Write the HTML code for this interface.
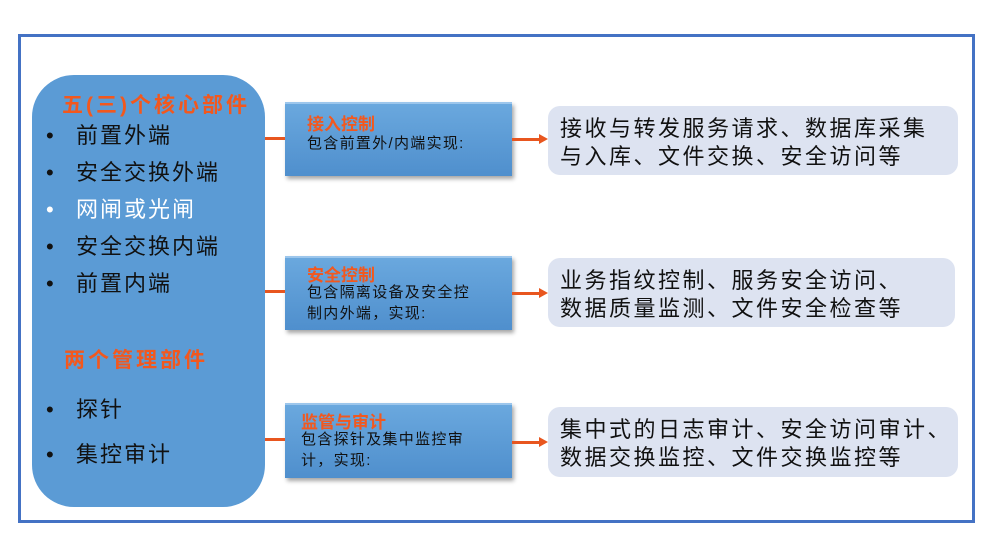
<!DOCTYPE html>
<html><head><meta charset="utf-8"><style>
body{margin:0;width:994px;height:538px;background:#fff;position:relative;overflow:hidden;font-family:"Liberation Sans","Noto Sans CJK SC",sans-serif}
.a{position:absolute}
.frame{left:18px;top:34px;width:951px;height:483px;border:3px solid #4472c4}
.left{left:32px;top:75px;width:233px;height:432px;background:#5b9bd5;border-radius:42px}
.t{color:#f2581e;font-weight:bold;font-size:21px;white-space:nowrap;letter-spacing:3px}
.b{font-size:22px;color:#111;white-space:nowrap;letter-spacing:2px;line-height:26px}
.b:before{content:"•";position:absolute;left:-30px;top:0;font-size:22px;line-height:26px}
.mid{left:285px;width:227px;background:linear-gradient(#6aa8de,#4f8fcd);box-shadow:2px 3px 4px rgba(0,0,0,.35);border-top:2px solid #9cc6ec}
.mt{color:#f2581e;font-weight:bold;font-size:17px;position:absolute;left:22px}
.ms{font-size:15px;color:#111;position:absolute;left:22px;line-height:21px;white-space:nowrap;letter-spacing:1.3px}
.r{left:548px;background:#dde3f1;border-radius:12px;font-size:22px;color:#111;line-height:28px;padding:9px 0 0 12px;box-sizing:border-box;white-space:nowrap;letter-spacing:2.5px}
.ln{height:3px;background:#e8561f}
.ar{width:0;height:0;border-left:9px solid #e8561f;border-top:5px solid transparent;border-bottom:5px solid transparent}
</style></head><body>
<div class="a frame"></div>
<div class="a left"></div>
<div class="a t" style="left:62px;top:89px">五(三)个核心部件</div>
<div class="a b" style="left:76px;top:123px">前置外端</div>
<div class="a b" style="left:76px;top:160px">安全交换外端</div>
<div class="a b" style="left:76px;top:197px;color:#fff">网闸或光闸</div>
<div class="a b" style="left:76px;top:234px">安全交换内端</div>
<div class="a b" style="left:76px;top:271px">前置内端</div>
<div class="a t" style="left:64px;top:344px">两个管理部件</div>
<div class="a b" style="left:76px;top:397px">探针</div>
<div class="a b" style="left:76px;top:442px">集控审计</div>

<div class="a mid" style="top:102px;height:72px"><div class="mt" style="top:6px">接入控制</div><div class="ms" style="top:29px">包含前置外/内端实现:</div></div>
<div class="a mid" style="top:256px;height:72px"><div class="mt" style="top:3px">安全控制</div><div class="ms" style="top:24px">包含隔离设备及安全控<br>制内外端，实现:</div></div>
<div class="a mid" style="top:403px;height:73px"><div class="mt" style="top:3px;left:16px">监管与审计</div><div class="ms" style="top:24px;left:16px">包含探针及集中监控审<br>计，实现:</div></div>

<div class="a ln" style="left:265px;top:137px;width:20px"></div>
<div class="a ln" style="left:265px;top:290px;width:20px"></div>
<div class="a ln" style="left:265px;top:438px;width:20px"></div>
<div class="a ln" style="left:512px;top:138px;width:28px"></div><div class="a ar" style="left:539px;top:134px"></div>
<div class="a ln" style="left:512px;top:292px;width:28px"></div><div class="a ar" style="left:539px;top:288px"></div>
<div class="a ln" style="left:512px;top:441px;width:28px"></div><div class="a ar" style="left:539px;top:437px"></div>

<div class="a r" style="top:106px;width:410px;height:69px">接收与转发服务请求、数据库采集<br>与入库、文件交换、安全访问等</div>
<div class="a r" style="top:258px;width:407px;height:69px">业务指纹控制、服务安全访问、<br>数据质量监测、文件安全检查等</div>
<div class="a r" style="top:407px;width:410px;height:70px">集中式的日志审计、安全访问审计、<br>数据交换监控、文件交换监控等</div>
</body></html>
